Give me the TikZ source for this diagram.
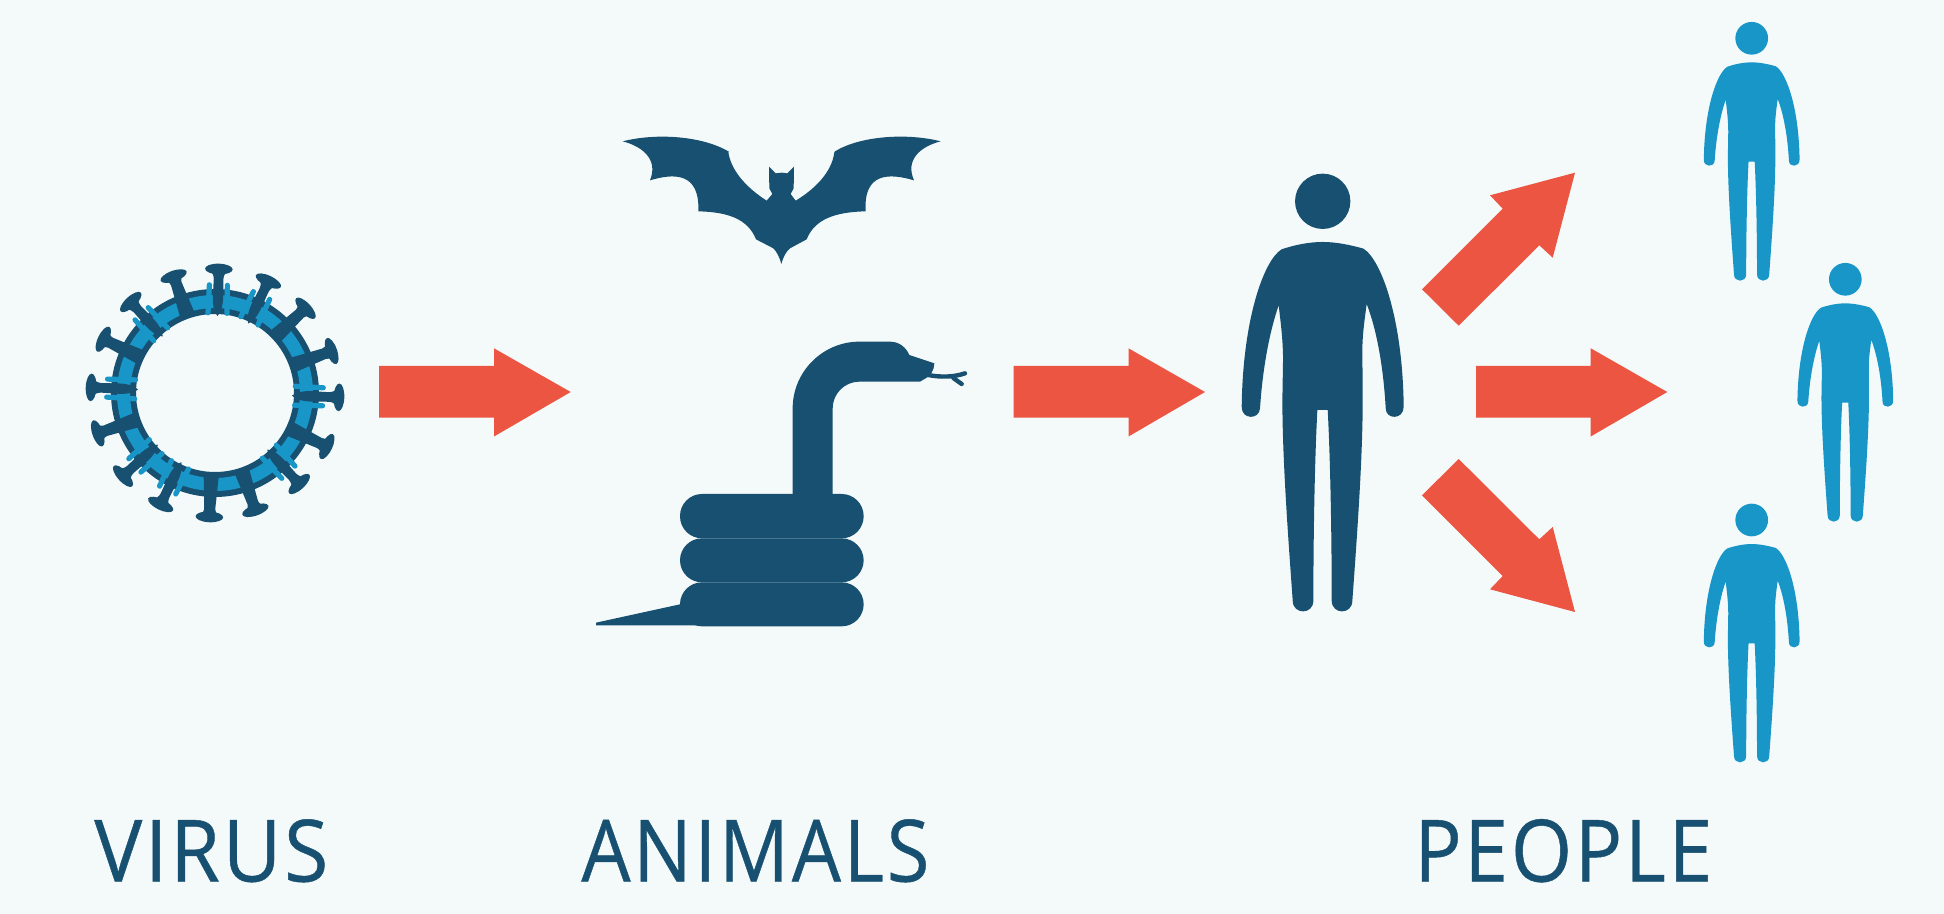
\documentclass[tikz,border=0pt]{standalone}
\usepackage{fontspec}
\newfontfamily\labelfont[LetterSpace=3.5,FakeBold=0.5]{Open Sans}
\definecolor{bgc}{HTML}{F4FAFA}
\definecolor{darkc}{HTML}{185071}
\definecolor{lightc}{HTML}{1896C8}
\definecolor{redc}{HTML}{EC5541}
\tikzset{
  dk/.style={fill=darkc,draw=none},
  lt/.style={fill=lightc,draw=none},
  flank/.style={draw=lightc,line width=2.6pt,line cap=round},
  redarrow/.style={fill=redc,draw=none},
  word/.style={anchor=base west,inner sep=0pt,text=darkc,font=\labelfont\fontsize{43}{43}\selectfont}
}
\newcommand{\capshape}{\fill[dk] (124,0) circle[x radius=5.4,y radius=13.8];}
\newcommand{\shortspike}[1]{%
  \begin{scope}[shift={(215,393)},rotate=#1]
    \fill[dk] (84,-7.5) -- (116,-5.5) .. controls (118,-5.7) and (120,-6.5) .. (122,-8.5) -- (122,8.5) .. controls (120,6.5) and (118,5.7) .. (116,5.5) -- (84,7.5) -- cycle;
    \capshape
  \end{scope}}
\newcommand{\longspike}[1]{%
  \begin{scope}[shift={(215,393)},rotate=#1]
    \draw[flank] (80,-9.5) -- (108,-9);
    \draw[flank] (80,9.5) -- (108,9);
    \fill[dk] (77,0) .. controls (81,-3.8) and (88,-5.2) .. (96,-5.2) -- (114,-4.8) .. controls (118,-5) and (120,-6.5) .. (122,-8.5) -- (122,8.5) .. controls (120,6.5) and (118,5) .. (114,4.8) -- (96,5.2) .. controls (88,5.2) and (81,3.8) .. (77,0) -- cycle;
    \capshape
  \end{scope}}
\newcommand{\person}[4]{%
  \begin{scope}[shift={(#1,#2)},scale=#3,shift={(-308,-124)}]
    \fill[#4] (308,124) circle[radius=83];
    \fill[#4] (308,246) .. controls (350,246) and (395,256) .. (430,266)
      .. controls (485,300) and (548,480) .. (551,740)
      .. controls (551,780) and (497,780) .. (497,745)
      .. controls (490,620) and (470,510) .. (440,432)
      .. controls (432,490) and (427,530) .. (427,570)
      -- (428,720)
      .. controls (428,900) and (410,1140) .. (397,1322)
      .. controls (397,1365) and (335,1365) .. (335,1322)
      .. controls (335,1100) and (330,880) .. (323,750)
      -- (292,750)
      .. controls (285,880) and (280,1100) .. (280,1322)
      .. controls (280,1365) and (218,1365) .. (218,1322)
      .. controls (205,1140) and (187,900) .. (187,720)
      -- (189,600)
      .. controls (189,540) and (182,490) .. (176,436)
      .. controls (150,510) and (128,620) .. (120,745)
      .. controls (118,780) and (64,780) .. (65,740)
      .. controls (68,480) and (131,300) .. (185,268)
      .. controls (220,256) and (265,246) .. (308,246) -- cycle;
  \end{scope}}
\begin{document}
\begin{tikzpicture}[x=0.5pt,y=-0.5pt]
\useasboundingbox (0,0) rectangle (1944,914);
\fill[bgc] (0,0) rectangle (1944,914);
% ---------- virus
\fill[darkc,even odd rule] (215,393) circle[radius=104] (215,393) circle[radius=79];
\fill[lightc,even odd rule] (215,393) circle[radius=98] (215,393) circle[radius=85];
\foreach \a in {43.1,19.8,-25.6,-71,-92.6,-161,154.3,109.5} {\shortspike{\a}}
\foreach \a in {88.2,64.5,-2,-47.2,-116,-137.9,177.4,132.8} {\longspike{\a}}
% ---------- bat
\begin{scope}[shift={(600,120)},scale=0.33333]
\fill[dk] (68,64) .. controls (170,38) and (310,48) .. (388,96) -- (385,97)
  .. controls (395,160) and (450,210) .. (500,242)
  -- (517,222) -- (508,205) -- (507,140) -- (527,160) -- (545,158) -- (562,160) -- (582,140) -- (581,205) -- (572,222) -- (587,242)
  .. controls (640,210) and (695,160) .. (703,97) -- (705,94)
  .. controls (780,48) and (920,38) .. (1022,64)
  .. controls (960,80) and (915,120) .. (942,181)
  .. controls (870,160) and (790,155) .. (797,274)
  .. controls (710,276) and (645,295) .. (620,358)
  -- (570,385) .. controls (558,395) and (550,410) .. (544,432)
  .. controls (538,410) and (530,395) .. (520,385)
  -- (468,358)
  .. controls (443,295) and (380,276) .. (295,274)
  .. controls (300,155) and (220,160) .. (150,181)
  .. controls (175,120) and (130,80) .. (68,64) -- cycle;
\end{scope}
% ---------- snake
\begin{scope}[shift={(590,320)},scale=0.33333]
\fill[dk,rounded corners=11pt] (270,522) rectangle (821,655);
\fill[dk,rounded corners=11pt] (270,655) rectangle (821,787);
\fill[dk,rounded corners=11pt] (270,787) rectangle (821,919);
\fill[dk] (18,908) -- (270,853) -- (320,916) -- (18,916) -- cycle;
\fill[dk] (608,540) -- (608,265) .. controls (608,155) and (698,65) .. (808,65) -- (900,65)
  .. controls (928,65) and (948,82) .. (958,105) -- (1033,130) .. controls (1033,140) and (1030,150) .. (1025,158)
  -- (1012,172) -- (990,185) -- (808,185) .. controls (764,185) and (728,221) .. (728,265) -- (728,540) -- cycle;
\draw[darkc,line width=2.2pt,line cap=round] (1015,165) .. controls (1050,172) and (1090,172) .. (1125,160);
\draw[darkc,line width=2.2pt,line cap=round] (1090,174) -- (1115,192);
\end{scope}
% ---------- red arrows
\fill[redarrow] (379,366) -- (494,366) -- (494,348.3) -- (570.7,392) -- (494,436.5) -- (494,417.7) -- (379,417.7) -- cycle;
\fill[redarrow] (1013.5,366) -- (1128.5,366) -- (1128.5,348.3) -- (1205,392) -- (1128.5,436.5) -- (1128.5,417.7) -- (1013.5,417.7) -- cycle;
\fill[redarrow] (1476,366) -- (1590.7,366) -- (1590.7,348.3) -- (1667.3,392) -- (1590.7,436.5) -- (1590.7,417.7) -- (1476,417.7) -- cycle;
\fill[redarrow] (1422,289.3) -- (1502.7,208.7) -- (1490,195.3) -- (1575,172.7) -- (1552.7,257.7) -- (1539.3,245.3) -- (1458.7,325.7) -- cycle;
\fill[redarrow] (1422,495.3) -- (1458.7,459) -- (1539.3,539.3) -- (1552.7,527) -- (1575,612) -- (1490,589.3) -- (1502.7,576) -- cycle;
% ---------- people
\person{1322.7}{201.3}{0.33333}{dk}
\person{1751.7}{38.3}{0.197}{lt}
\person{1845.3}{279.3}{0.197}{lt}
\person{1751.7}{520}{0.197}{lt}
% ---------- labels
\node[word] (virus) at (94,881.5) {\resizebox{117pt}{\height}{VIRUS}};
\node[word] (animals) at (581,881.5) {\resizebox{174pt}{\height}{ANIMALS}};
\node[word] (people) at (1414,881.5) {\resizebox{149pt}{\height}{PEOPLE}};
\end{tikzpicture}
\end{document}
